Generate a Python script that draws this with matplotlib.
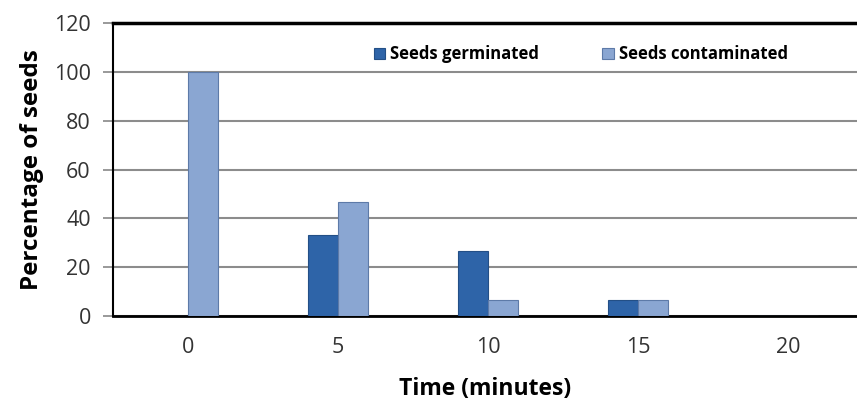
import matplotlib.pyplot as plt
import numpy as np

times = ['0', '5', '10', '15', '20']
germinated = [0, 33.3, 26.7, 6.7, 0]
contaminated = [100, 46.7, 6.7, 6.7, 0]

plt.rcParams['font.family'] = ['Open Sans', 'DejaVu Sans']

fig = plt.figure(figsize=(8.57, 4.05), dpi=100)
ax = fig.add_axes([113 / 857, 89 / 405, 744 / 857, 293 / 405])

x = np.arange(len(times))
w = 0.2
ax.bar(x - w / 2, germinated, w, color='#2e64a8', edgecolor='#234f86', linewidth=0.8,
       label='Seeds germinated', zorder=3)
ax.bar(x + w / 2, contaminated, w, color='#8aa6d2', edgecolor='#5d7aa8', linewidth=0.8,
       label='Seeds contaminated', zorder=3)

ax.set_xlim(-0.5, 4.46)
ax.set_ylim(0, 120)
ax.set_yticks(range(0, 121, 20))
ax.set_xticks(x)
ax.set_xticklabels(times)
ax.tick_params(axis='x', length=0, labelsize=15.5, pad=15, colors='#333333')
ax.tick_params(axis='y', length=7, width=1.2, color='#888888', labelsize=15.5,
               colors='#333333', pad=9)

ax.yaxis.grid(True, color='#8c8c8c', linewidth=1.5, zorder=0)
ax.set_axisbelow(True)
ax.spines['right'].set_visible(False)
ax.spines['top'].set_linewidth(2.5)
ax.spines['top'].set_color('black')
ax.spines['left'].set_linewidth(1.5)
ax.spines['bottom'].set_linewidth(2)

ax.set_ylabel('Percentage of seeds', fontsize=17.5, fontweight='bold', labelpad=7)
ax.set_xlabel('Time (minutes)', fontsize=16.5, fontweight='bold', labelpad=14)

ax.legend(loc='upper left', bbox_to_anchor=(0.33, 0.975), ncol=2, frameon=False,
          prop={'weight': 'bold', 'size': 12}, handlelength=0.7, handleheight=0.7,
          handletextpad=0.3, columnspacing=3.8)

fig.savefig('out.png', dpi=100)
